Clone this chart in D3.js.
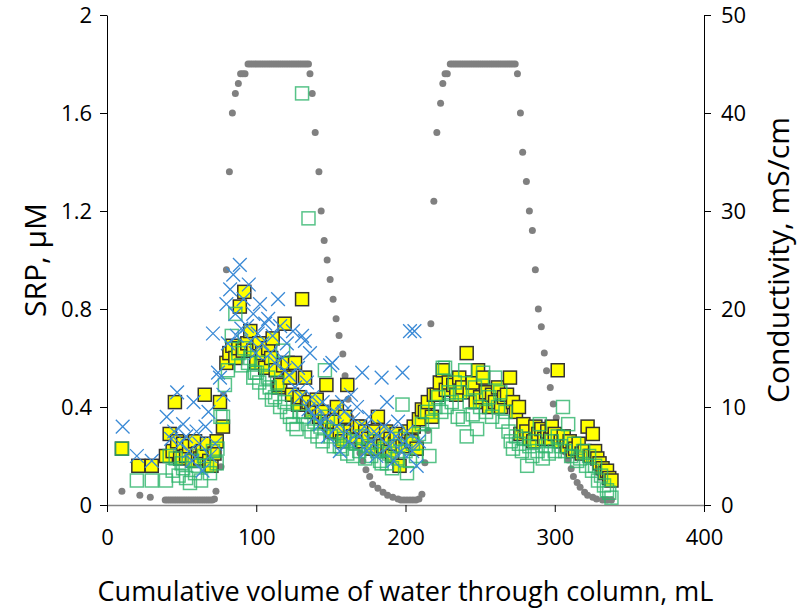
<!DOCTYPE html>
<html>
<head>
<meta charset="utf-8">
<script src="https://cdn.jsdelivr.net/npm/d3@7"></script>
<style>
  body { margin: 0; background: #fff; }
  svg text { font-family: "Open Sans", "Noto Sans", sans-serif; fill: #000; }
</style>
</head>
<body>
<div id="chart"></div>
<script>
// conductivity readings (mL, mS/cm) - right axis
const conductivity = [
  [10,1.4],[22,1.0],[29,0.8],[39,0.5],[40.5,0.5],[42,0.5],[43.5,0.5],[45,0.5],[46.5,0.5],[48,0.5],[49.5,0.5],
  [51,0.5],[52.5,0.5],[54,0.5],[55.5,0.5],[57,0.5],[58.5,0.5],[60,0.5],[61.5,0.5],[63,0.5],[64.5,0.5],
  [66,0.5],[67.5,0.5],[69,0.5],[70.5,0.5],[72,0.6],[73,1.4],[76.4,3.9],[78,11.2],[80,24],[82,34],[84,40],
  [86,42],[88,43],[89.5,44],[91,44],[92.5,44],[94.5,45],[96,45],[97.5,45],[99,45],[100.5,45],[102,45],
  [103.5,45],[105,45],[106.5,45],[108,45],[109.5,45],[111,45],[112.5,45],[114,45],[115.5,45],[117,45],
  [118.5,45],[120,45],[121.5,45],[123,45],[124.5,45],[126,45],[127.5,45],[129,45],[130.5,45],[132,45],
  [133.5,45],[135,45],[136,44],[137.5,42],[139.5,38],[142,34],[143.5,30],[145.5,27],[147.5,25],[149.5,23],
  [151.5,21],[153.5,19],[155.5,17.3],[158,15.4],[159.5,13.2],[161.5,10.8],[163.5,8.9],[166,7.1],[167.5,6],
  [169.5,5.3],[171.5,4.5],[173.5,3.6],[176,2.9],[178,2.1],[181.5,1.7],[185,1.3],[188,1.0],[191.5,0.8],
  [195,0.6],[197,0.5],[199,0.5],[201,0.5],[203,0.5],[205,0.5],[207,0.5],[209,0.6],[211,1.1],[213,4.3],
  [215,7.6],[217,18.5],[219,31],[221,38],[223.5,41],[225,43],[226.5,44],[228,44],[230,45],[231.5,45],
  [233,45],[234.5,45],[236,45],[237.5,45],[239,45],[240.5,45],[242,45],[243.5,45],[245,45],[246.5,45],
  [248,45],[249.5,45],[251,45],[252.5,45],[254,45],[255.5,45],[257,45],[258.5,45],[260,45],[261.5,45],
  [263,45],[264.5,45],[266,45],[267.5,45],[269,45],[270.5,45],[272,45],[273.5,45],[275,44],[277,40],
  [278.5,36],[281,33],[283,30],[285,28],[287,24],[289,20],[291,18.2],[293,15.5],[294.5,13.7],[297,12],
  [299,10.3],[301,8.9],[302.5,7.6],[305,6.5],[307,5.4],[309,4.6],[311,3.7],[312.5,2.9],[315,2.3],
  [317,1.8],[320,1.3],[322,1.0],[325.5,0.8],[328,0.6],[332,0.5],[335,0.5],[338,0.5]
];

// SRP replicate 1 - green open squares (mL, uM)
const srpGreen = [
  [10,0.23],[20,0.10],[30,0.10],[39.5,0.10],[42,0.20],[44,0.14],[46,0.19],[48,0.12],[50,0.17],[51,0.15],
  [53,0.11],[55.6,0.09],[57,0.18],[59,0.13],[61,0.16],[63,0.10],[65,0.20],[67,0.16],[69,0.13],[71,0.22],
  [73.5,0.17],[74,0.23],[76,0.36],[77.7,0.36],[79,0.49],[81,0.55],[83.6,0.69],[86,0.78],[88,0.62],[90,0.57],
  [92,0.64],[94.5,0.58],[96,0.60],[98,0.52],[99,0.54],[100.5,0.54],[102,0.50],[104,0.58],[106,0.46],
  [108,0.52],[109,0.48],[110.5,0.43],[112.6,0.44],[114,0.50],[116,0.40],[118,0.63],[119,0.42],[120.6,0.38],
  [122.6,0.36],[124.6,0.33],[127,0.31],[129,0.38],[130.7,1.68],[132,0.36],[134.6,0.33],[135,1.17],[137,0.30],
  [139,0.34],[141,0.28],[143,0.32],[144.5,0.26],[146,0.55],[148,0.36],[150,0.28],[152,0.24],[154,0.30],
  [156,0.24],[157.4,0.23],[159,0.27],[161,0.21],[163,0.26],[165,0.20],[167,0.25],[169,0.22],[171,0.28],
  [173,0.19],[175,0.24],[177,0.20],[179,0.26],[181,0.22],[183,0.18],[184,0.17],[186,0.23],[187.6,0.17],
  [189,0.21],[191,0.15],[193,0.24],[195,0.19],[196.5,0.27],[198,0.41],[200,0.22],[201,0.13],[203,0.18],
  [205,0.25],[207,0.20],[209,0.29],[211,0.33],[213,0.28],[214.5,0.38],[216,0.20],[218,0.34],[220,0.40],
  [222,0.44],[224,0.38],[225,0.56],[226.5,0.56],[227.5,0.40],[229,0.46],[231,0.42],[233,0.50],[235,0.36],
  [236.5,0.46],[238.5,0.35],[240,0.55],[241,0.28],[243,0.42],[245,0.37],[246.5,0.48],[248,0.31],[250,0.40],
  [252,0.54],[254,0.38],[256,0.44],[258,0.36],[260,0.52],[262,0.40],[263.5,0.46],[265,0.34],[267,0.38],
  [269,0.30],[270.5,0.26],[272,0.23],[274,0.28],[276,0.25],[278,0.22],[279.5,0.27],[281.5,0.16],[283,0.24],
  [285,0.20],[287,0.26],[288.5,0.22],[290,0.33],[292,0.19],[294,0.24],[296,0.21],[298,0.26],[300,0.22],
  [302,0.28],[304,0.24],[305.5,0.40],[307,0.22],[309,0.33],[311,0.20],[313,0.25],[315,0.18],[317,0.19],
  [319,0.22],[321,0.16],[323,0.20],[325,0.14],[327,0.16],[329,0.10],[331,0.12],[333,0.08],[335,0.06],
  [336.5,0.05],[338,0.03]
];

// SRP replicate 2 - yellow filled squares
const srpYellow = [
  [10,0.23],[21,0.16],[30,0.16],[39.5,0.20],[42,0.29],[44,0.22],[45.5,0.42],[47,0.26],[49,0.19],[51,0.25],
  [53,0.20],[55,0.24],[57,0.18],[59,0.26],[61,0.21],[62.5,0.19],[64,0.22],[65.5,0.45],[67,0.25],[68.5,0.18],
  [70,0.16],[72,0.21],[73.5,0.26],[75.7,0.42],[77.7,0.32],[80,0.58],[82,0.62],[84,0.65],[86,0.60],[88,0.64],
  [89,0.81],[91,0.63],[92,0.87],[94,0.66],[96,0.71],[98,0.63],[100,0.58],[102,0.66],[104,0.62],[106,0.56],
  [108,0.64],[110,0.60],[111,0.68],[113,0.55],[115,0.48],[116,0.49],[118,0.57],[119,0.74],[121,0.58],
  [122.6,0.52],[124,0.45],[126,0.58],[128,0.41],[129,0.44],[130.7,0.84],[132.7,0.52],[134,0.41],[135,0.42],
  [137,0.38],[139,0.40],[140.5,0.43],[142,0.36],[144,0.38],[146,0.34],[147,0.49],[149,0.33],[151,0.30],
  [152,0.34],[154,0.40],[156,0.30],[157.6,0.26],[159.5,0.36],[161,0.49],[163,0.30],[165,0.28],[167.5,0.32],
  [169.5,0.32],[171,0.26],[173,0.30],[175,0.27],[177.5,0.23],[179,0.30],[181.5,0.36],[183,0.26],[185,0.24],
  [187,0.30],[188,0.22],[190,0.27],[191,0.20],[193,0.25],[194,0.29],[196,0.16],[198,0.24],[200,0.28],
  [202,0.30],[204,0.26],[205.5,0.32],[207.5,0.23],[209,0.35],[211,0.39],[213,0.38],[215,0.42],[217.7,0.36],
  [219,0.45],[221,0.45],[223,0.50],[225,0.55],[227,0.47],[229,0.50],[232,0.49],[234,0.45],[236,0.52],
  [238,0.48],[241,0.62],[243,0.46],[245,0.50],[247,0.42],[248.6,0.55],[250,0.44],[252,0.52],[254,0.46],
  [256,0.40],[258,0.45],[260,0.42],[262,0.48],[264,0.40],[266,0.44],[268,0.45],[270,0.52],[272,0.42],
  [274,0.38],[276,0.40],[277,0.29],[279,0.33],[281,0.30],[283,0.27],[285.6,0.26],[287,0.32],[289,0.29],
  [291,0.31],[293,0.27],[295,0.30],[297,0.27],[298,0.32],[300,0.29],[302,0.55],[304,0.26],[306,0.28],
  [308,0.24],[310,0.26],[312,0.22],[313.6,0.23],[316,0.25],[318,0.21],[320,0.22],[322,0.32],[324,0.20],
  [325.5,0.29],[327,0.22],[328.5,0.19],[330,0.17],[332,0.15],[333.5,0.13],[335,0.14],[336.5,0.11],[338,0.10]
];

// SRP replicate 3 - blue crosses
const srpBlue = [
  [10.5,0.32],[20,0.20],[30,0.18],[40,0.36],[43,0.27],[45,0.30],[47,0.46],[49,0.25],[51,0.33],[53,0.28],
  [55,0.22],[57,0.18],[58,0.42],[60,0.30],[62,0.25],[64,0.14],[66,0.32],[68,0.38],[69,0.20],[71,0.70],
  [72.5,0.25],[74.4,0.54],[75.7,0.52],[78,0.45],[80,0.82],[81,0.66],[82.5,0.88],[84.6,0.94],[86,0.78],
  [87,0.69],[89,0.98],[90,0.72],[91.5,0.84],[93.8,0.73],[95,0.90],[96.5,0.67],[98,0.78],[99.5,0.62],
  [101,0.70],[102.5,0.82],[104,0.66],[106,0.74],[108,0.76],[109.5,0.62],[111,0.69],[112.5,0.58],[114.6,0.84],
  [116,0.73],[117.5,0.60],[119,0.55],[120.5,0.66],[122,0.53],[124.6,0.71],[126,0.48],[128,0.56],[129.5,0.44],
  [130.7,0.69],[132.6,0.67],[134,0.50],[135,0.39],[136,0.62],[137.5,0.44],[139,0.36],[141,0.40],[143,0.33],
  [144.5,0.42],[146,0.36],[148,0.28],[149.5,0.57],[151,0.58],[152.5,0.38],[154,0.32],[156,0.22],[157.5,0.42],
  [159,0.38],[160.5,0.30],[162,0.26],[163.5,0.45],[165,0.35],[167.5,0.40],[169,0.28],[171,0.54],[172.5,0.32],
  [174,0.22],[175.5,0.36],[177,0.26],[179,0.30],[180.5,0.20],[182,0.28],[184,0.52],[185.5,0.32],[187.6,0.42],
  [189,0.24],[190.5,0.30],[192,0.18],[193.5,0.28],[195,0.34],[197,0.22],[198,0.54],[199.5,0.26],[201,0.30],
  [203,0.71],[204.5,0.22],[206,0.71],[207.5,0.16],[209,0.26]
];

const xTicks = [0, 100, 200, 300, 400];
const srpTicks = [0, 0.4, 0.8, 1.2, 1.6, 2];
const condTicks = [0, 10, 20, 30, 40, 50];

const width = 799, height = 609;
const plot = { left: 107, right: 704, top: 15, bottom: 505 };

const svg = d3.select("#chart").append("svg")
  .attr("width", width)
  .attr("height", height);

const x = d3.scaleLinear().domain([0, 400]).range([plot.left, plot.right]);
const ySrp = d3.scaleLinear().domain([0, 2]).range([plot.bottom, plot.top]);
const yCond = d3.scaleLinear().domain([0, 50]).range([plot.bottom, plot.top]);

// axes
const fmt = d => String(d);

svg.append("g")
  .attr("transform", `translate(${plot.left},0)`)
  .call(d3.axisLeft(ySrp).tickValues(srpTicks).tickFormat(fmt).tickSize(7).tickSizeOuter(0).tickPadding(8))
  .call(g => g.selectAll("text").attr("font-size", 22).attr("font-family", null));

svg.append("g")
  .attr("transform", `translate(${plot.right},0)`)
  .call(d3.axisRight(yCond).tickValues(condTicks).tickSize(7).tickSizeOuter(0).tickPadding(10))
  .call(g => g.selectAll("text").attr("font-size", 22).attr("font-family", null));

svg.append("g")
  .attr("transform", `translate(0,${plot.bottom})`)
  .call(d3.axisBottom(x).tickValues(xTicks).tickSize(7).tickSizeOuter(0).tickPadding(17))
  .call(g => g.select(".domain").attr("stroke", "#868686").attr("stroke-width", 1.5))
  .call(g => g.selectAll("text").attr("font-size", 22).attr("font-family", null));

// series
const marks = svg.append("g");

marks.selectAll("circle.cond")
  .data(conductivity)
  .join("circle")
  .attr("class", "cond")
  .attr("cx", d => x(d[0]))
  .attr("cy", d => yCond(d[1]))
  .attr("r", 3.5)
  .attr("fill", "#808080");

const sq = 13;

marks.selectAll("rect.yel")
  .data(srpYellow)
  .join("rect")
  .attr("class", "yel")
  .attr("x", d => x(d[0]) - sq / 2)
  .attr("y", d => ySrp(d[1]) - sq / 2)
  .attr("width", sq)
  .attr("height", sq)
  .attr("fill", "#ffff00")
  .attr("stroke", "#333")
  .attr("stroke-width", 1.5);

marks.selectAll("rect.grn")
  .data(srpGreen)
  .join("rect")
  .attr("class", "grn")
  .attr("x", d => x(d[0]) - sq / 2)
  .attr("y", d => ySrp(d[1]) - sq / 2)
  .attr("width", sq)
  .attr("height", sq)
  .attr("fill", "none")
  .attr("stroke", "#2db46a")
  .attr("stroke-opacity", 0.8)
  .attr("stroke-width", 1.5);

const cross = d3.symbol().type(d3.symbolX).size(125);

marks.selectAll("path.blu")
  .data(srpBlue)
  .join("path")
  .attr("class", "blu")
  .attr("transform", d => `translate(${x(d[0])},${ySrp(d[1])})`)
  .attr("d", cross)
  .attr("fill", "none")
  .attr("stroke", "#3a8ad6")
  .attr("stroke-width", 1.3);

// titles
svg.append("text")
  .attr("x", (plot.left + plot.right) / 2)
  .attr("y", 601)
  .attr("text-anchor", "middle")
  .attr("font-size", 27)
  .text("Cumulative volume of water through column, mL");

svg.append("text")
  .attr("transform", `translate(46,${(plot.top + plot.bottom) / 2}) rotate(-90)`)
  .attr("text-anchor", "middle")
  .attr("font-size", 30)
  .text("SRP, μM");

svg.append("text")
  .attr("transform", `translate(789,${(plot.top + plot.bottom) / 2}) rotate(-90)`)
  .attr("text-anchor", "middle")
  .attr("font-size", 30)
  .text("Conductivity, mS/cm");
</script>
</body>
</html>
